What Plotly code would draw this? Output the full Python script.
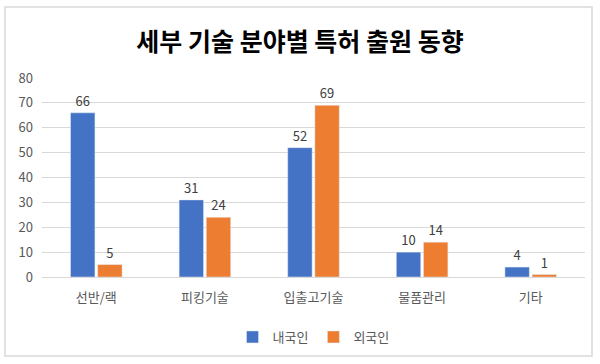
import plotly.graph_objects as go

categories = ["선반/랙", "피킹기술", "입출고기술", "물품관리", "기타"]
domestic = [66, 31, 52, 10, 4]
foreign = [5, 24, 69, 14, 1]
series_names = ["내국인", "외국인"]
y_ticks = [0, 10, 20, 30, 40, 50, 60, 70, 80]

FONT = "Noto Sans CJK KR"
W, H = 600, 364
L, R, T, B = 42, 15, 78, 87
pw, ph = W - L - R, H - T - B

fig = go.Figure()
fig.add_trace(go.Bar(x=categories, y=domestic, name=series_names[0], marker_color="#4472C4",
                     text=domestic, textposition="outside", cliponaxis=False,
                     textfont=dict(size=13, color="#404040", family=FONT)))
fig.add_trace(go.Bar(x=categories, y=foreign, name=series_names[1], marker_color="#ED7D31",
                     text=foreign, textposition="outside", cliponaxis=False,
                     textfont=dict(size=13, color="#404040", family=FONT)))

def px_x(p):
    return (p - L) / pw

def px_y(p):
    return (H - B - p) / ph

fig.add_shape(type="rect", xref="paper", yref="paper",
              x0=px_x(5), x1=px_x(592), y0=px_y(356), y1=px_y(7),
              line=dict(color="#D9D9D9", width=1.5), fillcolor="rgba(0,0,0,0)", layer="below")

fig.update_layout(
    width=W, height=H,
    margin=dict(l=L, r=R, t=T, b=B, autoexpand=False),
    paper_bgcolor="white", plot_bgcolor="white",
    font=dict(family=FONT, color="#595959", size=13),
    title=dict(text="<b>세부 기술 분야별 특허 출원 동향</b>", x=0.5, xanchor="center",
               y=1 - 42 / H, yanchor="middle",
               font=dict(size=25, color="#000000", family=FONT)),
    barmode="group", bargap=0.5, bargroupgap=0.1,
    showlegend=True,
    legend=dict(orientation="h", x=0.5, xanchor="center", yref="container", y=1 - 337 / H,
                yanchor="middle", font=dict(size=13, color="#595959", family=FONT),
                itemwidth=30, tracegroupgap=0),
    xaxis=dict(showline=True, linecolor="#D9D9D9", ticks="", ticklabelstandoff=8,
               tickfont=dict(size=13, color="#595959")),
    yaxis=dict(range=[0, 80], tickvals=y_ticks, showgrid=True, gridcolor="#D9D9D9",
               zeroline=False, showline=False, ticks="", ticklabelstandoff=8,
               tickfont=dict(size=13, color="#595959")),
)

fig.write_html("out.html", config={"displayModeBar": False},
               post_script="document.body.style.margin='0';document.body.style.padding='0';")
